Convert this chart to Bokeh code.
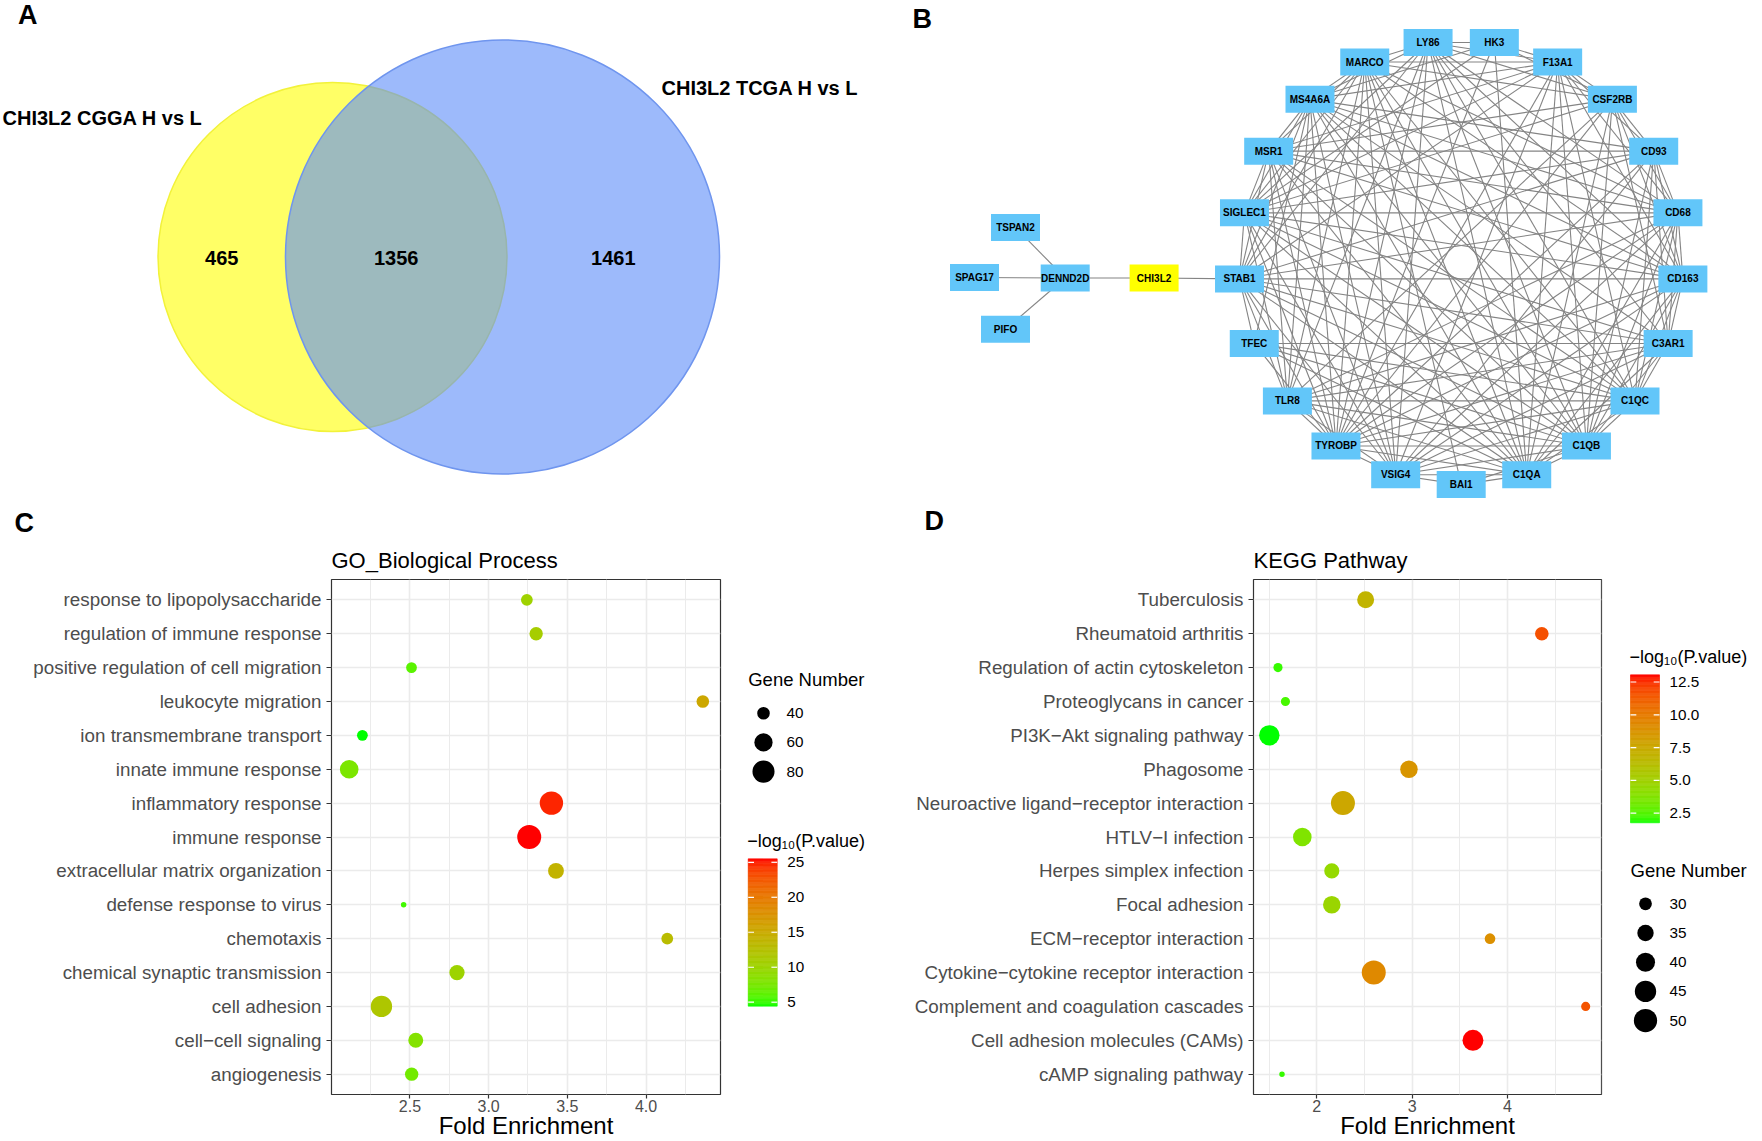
import numpy as np
from bokeh.plotting import figure
from bokeh.models import (Range1d, FixedTicker, LinearColorMapper, ColumnDataSource,
                          PrintfTickFormatter)
from bokeh.layouts import row, column
from bokeh.transform import transform
from bokeh.embed import file_html
from bokeh.resources import INLINE
from bokeh.core.properties import value

FONT = "Liberation Sans"

# ------------------------------------------------------------------ data
venn_sets = ["CHI3L2 CGGA H vs L", "CHI3L2 TCGA H vs L"]
venn_only_a = 465
venn_both = 1356
venn_only_b = 1461

net_circle_nodes = ["LY86", "HK3", "F13A1", "CSF2RB", "CD93", "CD68", "CD163", "C3AR1",
                    "C1QC", "C1QB", "C1QA", "BAI1", "VSIG4", "TYROBP", "TLR8", "TFEC",
                    "STAB1", "SIGLEC1", "MSR1", "MS4A6A", "MARCO"]
net_side_nodes = ["CHI3L2", "DENND2D", "TSPAN2", "SPAG17", "PIFO"]
net_query = "CHI3L2"
net_edges = {
    "LY86": "HK3 F13A1 CSF2RB CD68 CD163 C3AR1 C1QC C1QB C1QA VSIG4 TYROBP TLR8 STAB1 SIGLEC1 MS4A6A MARCO",
    "HK3": "F13A1 CSF2RB TYROBP C1QA SIGLEC1 MS4A6A",
    "F13A1": "CSF2RB CD93 CD68 CD163 C1QC C1QB C1QA VSIG4 TYROBP STAB1 SIGLEC1 MSR1 MS4A6A MARCO",
    "CSF2RB": "CD93 CD68 CD163 C3AR1 C1QB C1QA TYROBP TLR8 SIGLEC1 MSR1 MARCO",
    "CD93": "CD68 CD163 C3AR1 C1QC C1QB VSIG4 TYROBP STAB1 SIGLEC1 MSR1 MS4A6A",
    "CD68": "CD163 C3AR1 C1QC C1QB C1QA VSIG4 TYROBP TLR8 STAB1 SIGLEC1 MSR1 MS4A6A MARCO",
    "CD163": "C3AR1 C1QC C1QB C1QA VSIG4 TYROBP TLR8 STAB1 SIGLEC1 MSR1 MS4A6A MARCO",
    "C3AR1": "C1QC C1QB C1QA VSIG4 TYROBP TLR8 TFEC STAB1 SIGLEC1 MS4A6A",
    "C1QC": "C1QB C1QA VSIG4 TYROBP TLR8 TFEC STAB1 SIGLEC1 MSR1 MS4A6A MARCO",
    "C1QB": "C1QA BAI1 VSIG4 TYROBP TLR8 TFEC STAB1 SIGLEC1 MSR1 MS4A6A MARCO",
    "C1QA": "BAI1 VSIG4 TYROBP TLR8 TFEC STAB1 SIGLEC1 MSR1 MS4A6A MARCO",
    "BAI1": "VSIG4 MARCO",
    "VSIG4": "TYROBP TLR8 STAB1 SIGLEC1 MSR1 MS4A6A MARCO",
    "TYROBP": "TLR8 TFEC STAB1 SIGLEC1 MSR1 MS4A6A MARCO",
    "TLR8": "STAB1 SIGLEC1 MSR1 MS4A6A MARCO",
    "TFEC": "STAB1 MS4A6A",
    "STAB1": "SIGLEC1 MSR1 MS4A6A MARCO CHI3L2",
    "SIGLEC1": "MSR1 MS4A6A MARCO",
    "MSR1": "MS4A6A MARCO",
    "MS4A6A": "MARCO",
    "CHI3L2": "DENND2D",
    "DENND2D": "TSPAN2 SPAG17 PIFO",
}

go_title = "GO_Biological Process"
go_terms = ["response to lipopolysaccharide", "regulation of immune response",
            "positive regulation of cell migration", "leukocyte migration",
            "ion transmembrane transport", "innate immune response", "inflammatory response",
            "immune response", "extracellular matrix organization", "defense response to virus",
            "chemotaxis", "chemical synaptic transmission", "cell adhesion",
            "cell\u2212cell signaling", "angiogenesis"]
go_fold = [3.243, 3.302, 2.510, 4.361, 2.198, 2.114, 3.399, 3.258, 3.428, 2.460,
           4.135, 2.799, 2.319, 2.537, 2.511]
go_count = [38, 42, 36, 40, 36, 62, 88, 92, 50, 31, 38, 48, 76, 47, 42]
go_logp = [10.33, 10.96, 6.12, 15.39, 4.43, 7.80, 24.87, 25.50, 14.12, 5.27,
           13.07, 10.12, 11.80, 8.22, 7.17]
go_x_ticks = [2.5, 3.0, 3.5, 4.0]
go_size_breaks = [40, 60, 80]
go_color_ticks = [5, 10, 15, 20, 25]

kegg_title = "KEGG Pathway"
kegg_terms = ["Tuberculosis", "Rheumatoid arthritis", "Regulation of actin cytoskeleton",
              "Proteoglycans in cancer", "PI3K\u2212Akt signaling pathway", "Phagosome",
              "Neuroactive ligand\u2212receptor interaction", "HTLV\u2212I infection",
              "Herpes simplex infection", "Focal adhesion", "ECM\u2212receptor interaction",
              "Cytokine\u2212cytokine receptor interaction", "Complement and coagulation cascades",
              "Cell adhesion molecules (CAMs)", "cAMP signaling pathway"]
kegg_fold = [2.513, 4.360, 1.594, 1.672, 1.503, 2.967, 2.275, 1.849, 2.158, 2.158,
             3.817, 2.598, 4.820, 3.638, 1.636]
kegg_count = [36, 31, 27, 27, 43, 37, 52, 39, 33, 37, 28, 52, 27, 44, 26]
kegg_logp = [6.85, 11.70, 2.11, 2.33, 1.77, 8.65, 7.64, 3.69, 4.48, 4.70,
             8.99, 9.33, 11.58, 13.05, 2.11]
kegg_x_ticks = [2, 3, 4, 5]
kegg_size_breaks = [30, 35, 40, 45, 50]
kegg_color_ticks = [2.5, 5.0, 7.5, 10.0, 12.5]

x_axis_title = "Fold Enrichment"
size_legend_title = "Gene Number"
color_legend_title = "\u2212log\u2081\u2080(P.value)"

# ------------------------------------------------------------------ helpers
_M = np.array([[0.4124564, 0.3575761, 0.1804375],
               [0.2126729, 0.7151522, 0.0721750],
               [0.0193339, 0.1191920, 0.9503041]])
_WHITE = np.array([0.95047, 1.0, 1.08883])


def _hex_rgb(h):
    return np.array([int(h[i:i + 2], 16) for i in (1, 3, 5)]) / 255.0


def _to_lab(rgb):
    lin = np.where(rgb <= 0.04045, rgb / 12.92, ((rgb + 0.055) / 1.055) ** 2.4)
    xyz = _M @ lin / _WHITE
    f = np.where(xyz > (6 / 29) ** 3, np.cbrt(xyz), xyz / (3 * (6 / 29) ** 2) + 4 / 29)
    return np.array([116 * f[1] - 16, 500 * (f[0] - f[1]), 200 * (f[1] - f[2])])


def _from_lab(lab):
    fy = (lab[0] + 16) / 116
    f = np.array([fy + lab[1] / 500, fy, fy - lab[2] / 200])
    xyz = np.where(f > 6 / 29, f ** 3, 3 * (6 / 29) ** 2 * (f - 4 / 29)) * _WHITE
    lin = np.clip(np.linalg.solve(_M, xyz), 0, 1)
    rgb = np.where(lin <= 0.0031308, 12.92 * lin, 1.055 * lin ** (1 / 2.4) - 0.055)
    return np.clip(rgb, 0, 1)


def lab_gradient(low, high, n=256):
    a, b = _to_lab(_hex_rgb(low)), _to_lab(_hex_rgb(high))
    out = []
    for t in np.linspace(0, 1, n):
        c = _from_lab(a + (b - a) * t)
        out.append("#%02x%02x%02x" % tuple(int(round(v * 255)) for v in c))
    return out


PALETTE = lab_gradient("#00FF00", "#FF0000")
D_MIN, D_MAX = 5.5, 24.0


def dot_size(n, lo, hi):
    n = np.asarray(n, dtype=float)
    return D_MIN + (D_MAX - D_MIN) * np.sqrt(np.clip((n - lo) / (hi - lo), 0, 1))


# page geometry (page pixels from the top-left corner)
PAGE_W = 1762
TOP_H = 538
BOT_Y0, BOT_Y1 = TOP_H, 1141
FRAME_TOP, FRAME_BOTTOM = 579, 1094


def blank_fig(x0, x1, y0, y1, border_top=0, border_bottom=0):
    p = figure(width=int(x1 - x0), height=int(y1 - y0) + border_top + border_bottom,
               x_range=Range1d(x0, x1), y_range=Range1d(y1, y0),
               x_axis_location=None, y_axis_location=None, min_border_left=0,
               min_border_right=0, min_border_top=border_top, min_border_bottom=border_bottom,
               title=None, output_backend="svg", toolbar_location=None)
    p.grid.visible = False
    p.outline_line_color = None
    p.background_fill_color = "white"
    p.border_fill_color = "white"
    return p


def letter(p, x, y_mid, txt):
    p.text(x=[x], y=[y_mid], text=[txt], text_font_size="27px", text_font_style="bold",
           text_font=value(FONT), text_baseline="middle", text_color="black")


# ------------------------------------------------------------------ A: Venn
pA = blank_fig(0, 888, 0, TOP_H)
totals = np.array([venn_only_a + venn_both, venn_only_b + venn_both], dtype=float)
radii = 4.089 * np.sqrt(totals)
cx = np.array([332.0, 502.0])
cy = 256.5
pA.circle(x=cx, y=[cy, cy], radius=radii, fill_color=["#FFFF00", "#5B8CF8"],
          fill_alpha=0.6, line_color=["#F2F23A", "#6F95EE"], line_width=1.5)
left_a, right_a = cx[0] - radii[0], cx[0] + radii[0]
left_b, right_b = cx[1] - radii[1], cx[1] + radii[1]
pA.text(x=[(left_a + left_b) / 2, (left_b + right_a) / 2, (right_a + right_b) / 2],
        y=[cy + 1] * 3, text=[str(venn_only_a), str(venn_both), str(venn_only_b)],
        text_align="center", text_baseline="middle", text_font_size="20px",
        text_font_style="bold", text_font=value(FONT), text_color="black")
pA.text(x=[2, 661], y=[117, 87], text=venn_sets, text_align="left", text_baseline="middle",
        text_font_size="20px", text_font_style="bold", text_font=value(FONT),
        text_color="black")
letter(pA, 17.5, 14, "A")
letter(pA, 14, 522.8, "C")

# ------------------------------------------------------------------ B: network
pB = blank_fig(888, PAGE_W, 0, TOP_H)
pos = {}
ccx, ccy, R = 1460.7, 261.8, 222.3
nC = len(net_circle_nodes)
bottom_idx = net_circle_nodes.index("BAI1")
for k, name in enumerate(net_circle_nodes):
    ang = np.deg2rad(90 + (k - bottom_idx) * 360.0 / nC)
    pos[name] = (ccx + R * np.cos(ang), ccy + R * np.sin(ang))
side_layout = {"CHI3L2": (1153.6, 277.5), "DENND2D": (1064.7, 277.5),
               "TSPAN2": (1015.0, 227.0), "SPAG17": (974.0, 277.0), "PIFO": (1005.0, 328.7)}
for name in net_side_nodes:
    pos[name] = side_layout[name]
x0s, y0s, x1s, y1s = [], [], [], []
for a, targets in net_edges.items():
    for b in targets.split():
        x0s.append(pos[a][0]); y0s.append(pos[a][1])
        x1s.append(pos[b][0]); y1s.append(pos[b][1])
pB.segment(x0=x0s, y0=y0s, x1=x1s, y1=y1s, line_color="#848484", line_width=1.1)
all_nodes = net_circle_nodes + net_side_nodes
nsrc = ColumnDataSource(dict(
    x=[pos[n][0] for n in all_nodes], y=[pos[n][1] for n in all_nodes], name=all_nodes,
    color=["#FFFF00" if n == net_query else "#62C6F9" for n in all_nodes]))
pB.rect(x="x", y="y", width=49, height=27, fill_color="color", line_color=None, source=nsrc)
pB.text(x="x", y="y", text="name", source=nsrc, text_align="center", text_baseline="middle",
        text_font_size="10px", text_font_style="bold", text_font=value(FONT),
        text_color="black")
letter(pB, 912, 18.8, "B")
letter(pB, 924, 520, "D")


# ------------------------------------------------------------------ C / D: dot plots
def dot_panel(title, terms, fold, count, logp, x_ticks, fmt, fig_x0, frame_x0, frame_x1,
              fig_x1, mapper):
    n = len(terms)
    ys = list(range(n - 1, -1, -1))
    lo, hi = min(fold), max(fold)
    pad = 0.05 * (hi - lo)
    p = figure(width=int(fig_x1 - fig_x0), height=BOT_Y1 - BOT_Y0,
               x_range=Range1d(lo - pad, hi + pad), y_range=Range1d(-0.6, n - 0.4),
               min_border_left=int(frame_x0 - fig_x0), min_border_right=int(fig_x1 - frame_x1),
               min_border_top=FRAME_TOP - BOT_Y0, min_border_bottom=BOT_Y1 - FRAME_BOTTOM,
               output_backend="svg", toolbar_location=None)
    p.title.text = title
    p.title.text_font_size = "22px"
    p.title.text_font_style = "normal"
    p.title.text_font = FONT
    p.title.text_color = "black"
    p.title.align = "left"
    p.title.standoff = 14
    src = ColumnDataSource(dict(x=fold, y=ys, s=dot_size(count, min(count), max(count)),
                                p=logp))
    p.scatter("x", "y", size="s", source=src, fill_color=transform("p", mapper),
              line_color=None)
    step = x_ticks[1] - x_ticks[0]
    minor = [t - step / 2 for t in x_ticks] + [x_ticks[-1] + step / 2]
    p.xaxis.ticker = FixedTicker(ticks=x_ticks, minor_ticks=minor)
    p.xaxis.formatter = PrintfTickFormatter(format=fmt)
    p.yaxis.ticker = FixedTicker(ticks=ys)
    p.yaxis.major_label_overrides = {y: t for y, t in zip(ys, terms)}
    p.xgrid.grid_line_color = "#EBEBEB"
    p.xgrid.grid_line_width = 1.6
    p.xgrid.minor_grid_line_color = "#EBEBEB"
    p.xgrid.minor_grid_line_width = 1.0
    p.ygrid.grid_line_color = "#EBEBEB"
    p.ygrid.grid_line_width = 1.6
    p.axis.axis_line_color = None
    p.axis.major_tick_line_color = "#333333"
    p.axis.major_tick_line_width = 1.2
    p.yaxis.major_tick_out = 5
    p.xaxis.major_tick_out = 4
    p.axis.major_tick_in = 0
    p.axis.minor_tick_line_color = None
    p.axis.major_label_text_font = FONT
    p.axis.major_label_text_color = "#4D4D4D"
    p.yaxis.major_label_text_font_size = "18.8px"
    p.xaxis.major_label_text_font_size = "16px"
    p.yaxis.major_label_standoff = 5
    p.xaxis.major_label_standoff = 1
    p.xaxis.axis_label = x_axis_title
    p.xaxis.axis_label_text_font = FONT
    p.xaxis.axis_label_text_font_size = "24px"
    p.xaxis.axis_label_text_font_style = "normal"
    p.xaxis.axis_label_text_color = "black"
    p.xaxis.axis_label_standoff = -3
    p.outline_line_color = "#333333"
    p.outline_line_width = 1.2
    p.background_fill_color = "white"
    p.border_fill_color = "white"
    return p


def legend_panel(fig_x0, fig_x1, mapper, color_ticks, cfmt, bar_x0, bar_top, bar_bottom,
                 breaks, counts, size_title_y, first_dot_y, dot_x, label_x):
    p = blank_fig(fig_x0, fig_x1, FRAME_TOP, FRAME_BOTTOM,
                  border_top=FRAME_TOP - BOT_Y0, border_bottom=BOT_Y1 - FRAME_BOTTOM)
    lo, hi = mapper.low, mapper.high
    bar_w = 29
    nslice = 120
    edges = np.linspace(lo, hi, nslice + 1)

    def to_y(v):
        return bar_bottom - (np.asarray(v, dtype=float) - lo) / (hi - lo) * (bar_bottom - bar_top)

    csrc = ColumnDataSource(dict(v=(edges[:-1] + edges[1:]) / 2, top=to_y(edges[1:]),
                                 bottom=to_y(edges[:-1])))
    p.quad(left=bar_x0, right=bar_x0 + bar_w, top="top", bottom="bottom", source=csrc,
           fill_color=transform("v", mapper), line_color=transform("v", mapper),
           line_width=0.6)
    ty = to_y(color_ticks)
    tl = bar_w / 5
    p.segment(x0=[bar_x0] * len(ty) + [bar_x0 + bar_w - tl] * len(ty), y0=list(ty) * 2,
              x1=[bar_x0 + tl] * len(ty) + [bar_x0 + bar_w] * len(ty), y1=list(ty) * 2,
              line_color="white", line_width=1.2)
    p.text(x=[bar_x0 + bar_w + 10] * len(ty), y=ty, text=[cfmt % t for t in color_ticks],
           text_align="left", text_baseline="middle", text_font_size="15.3px",
           text_font=value(FONT), text_color="black")
    p.text(x=[bar_x0 - 1], y=[bar_top - 18], text=[color_legend_title], text_align="left",
           text_baseline="middle", text_font_size="18px", text_font=value(FONT),
           text_color="black")
    p.text(x=[bar_x0], y=[size_title_y], text=[size_legend_title], text_align="left",
           text_baseline="middle", text_font_size="18.5px", text_font=value(FONT),
           text_color="black")
    ys = [first_dot_y + 29.2 * i for i in range(len(breaks))]
    p.scatter(x=[dot_x] * len(breaks), y=ys, size=dot_size(breaks, min(counts), max(counts)),
              fill_color="black", line_color=None)
    p.text(x=[label_x] * len(breaks), y=ys, text=[str(b) for b in breaks], text_align="left",
           text_baseline="middle", text_font_size="15.3px", text_font=value(FONT),
           text_color="black")
    return p


go_mapper = LinearColorMapper(palette=PALETTE, low=min(go_logp), high=max(go_logp))
kegg_mapper = LinearColorMapper(palette=PALETTE, low=min(kegg_logp), high=max(kegg_logp))

pC = dot_panel(go_title, go_terms, go_fold, go_count, go_logp, go_x_ticks, "%.1f",
               0, 331, 720, 740, go_mapper)
pCl = legend_panel(740, 900, go_mapper, go_color_ticks, "%d", 747.7, 858.3, 1005.7,
                   go_size_breaks, go_count, 679.3, 712.7, 763, 786)
pD = dot_panel(kegg_title, kegg_terms, kegg_fold, kegg_count, kegg_logp, kegg_x_ticks, "%d",
               900, 1253, 1601, 1622, kegg_mapper)
pDl = legend_panel(1622, PAGE_W, kegg_mapper, kegg_color_ticks, "%.1f", 1630, 674.3, 822.3,
                   kegg_size_breaks, kegg_count, 870, 903.3, 1645, 1669)

layout = column(row(pA, pB), row(pC, pCl, pD, pDl))
open("out.html", "w").write(file_html(layout, INLINE))
